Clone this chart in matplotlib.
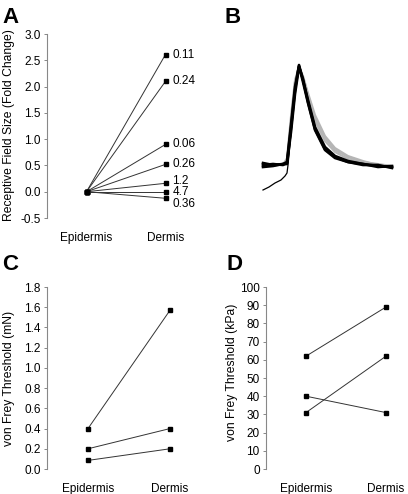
import matplotlib.pyplot as plt

plt.rcParams['font.family'] = ['Liberation Sans', 'DejaVu Sans']

groups = ["Epidermis", "Dermis"]

# A: receptive field size (fold change), labels next to dermis points
a_epi = [0, 0, 0, 0, 0, 0, 0]
a_derm = [2.61, 2.1, 0.9, 0.52, 0.16, 0.0, -0.125]
a_labels = ["0.11", "0.24", "0.06", "0.26", "1.2", "4.7", "0.36"]
a_label_dy = [0, 0, 0, 0, 2, 0, -4]   # small shifts (points) so labels don't overlap

# B: overlaid spike traces (time in samples, voltage in arbitrary units)
t_b = [0, 10, 20, 24, 28, 32, 36, 40, 45, 52, 62, 72, 85, 100, 115, 129]
black_traces = [
    [35, 36, 35, 37, 72, 110, 135, 120, 100, 73, 53, 44, 39, 36, 34, 33],
    [37, 35, 36, 36, 68, 106, 133, 121, 98, 71, 51, 43, 38, 35, 35, 32],
    [33, 34, 36, 38, 75, 113, 134, 118, 97, 70, 50, 42, 38, 36, 33, 34],
]
grey_traces = [
    [36, 35, 36, 40, 80, 118, 134, 123, 105, 82, 62, 50, 43, 38, 36, 34],
    [34, 36, 35, 42, 84, 120, 133, 124, 107, 85, 64, 52, 44, 39, 35, 33],
    [35, 34, 36, 39, 78, 115, 132, 122, 103, 79, 59, 48, 41, 37, 35, 34],
]
t_low = [0, 6, 12, 18, 22, 24, 25, 28, 32, 36, 40, 45, 52, 62, 72, 85]
v_low = [10, 13, 17, 20, 24, 27, 35, 68, 108, 132, 119, 98, 72, 52, 43, 38]

# C: von Frey threshold (mN)
c_epi = [0.40, 0.20, 0.085]
c_derm = [1.57, 0.40, 0.20]

# D: von Frey threshold (kPa)
d_epi = [62, 31, 40]
d_derm = [89, 62, 31]

W, H = 408, 494
fig = plt.figure(figsize=(W / 100, H / 100), dpi=100)


def box(left, top, right, bottom):
    return [left / W, 1 - bottom / H, (right - left) / W, (bottom - top) / H]


def pair_axes(ax, epi, derm, ylim, yticks, fmt, ylabel, label_y, label_x, lsize):
    for e, d in zip(epi, derm):
        ax.plot([1, 2], [e, d], color='#333333', lw=0.7,
                marker='s', ms=3.5, mfc='black', mec='black', zorder=3)
    ax.set_xlim(0.5, 2.5)
    ax.set_ylim(*ylim)
    ax.set_yticks(yticks)
    ax.set_yticklabels([fmt.format(v) for v in yticks])
    ax.set_xticks([1, 2])
    ax.set_xticklabels(groups)
    for s in ['top', 'right', 'bottom']:
        ax.spines[s].set_visible(False)
    ax.spines['left'].set_color('#888888')
    ax.spines['left'].set_linewidth(0.8)
    ax.tick_params(axis='y', length=2.5, width=0.7, color='#888888', pad=2, labelsize=8.5)
    ax.tick_params(axis='x', length=0, pad=10, labelsize=8.5)
    ax.set_ylabel(ylabel, fontsize=lsize)
    ax.yaxis.set_label_coords(label_x, label_y)
    ax.patch.set_alpha(0)


# panel A
axA = fig.add_axes(box(47, 34, 205, 218))
pair_axes(axA, a_epi, a_derm, (-0.5, 3.0), [-0.5, 0, 0.5, 1.0, 1.5, 2.0, 2.5, 3.0],
          "{:.1f}", "Receptive Field Size (Fold Change)", 0.505, -0.205, 8.7)
for v, lab, dy in zip(a_derm, a_labels, a_label_dy):
    axA.annotate(lab, (2, v), xytext=(5, dy), textcoords='offset points',
                 va='center', ha='left', fontsize=8.5)

# panel B
axB = fig.add_axes(box(255, 50, 400, 200))
for v in grey_traces:
    axB.plot(t_b, v, color='#b5b5b5', lw=1.5)
for v in black_traces:
    axB.plot(t_b, v, color='black', lw=1.9)
axB.plot(t_low, v_low, color='black', lw=0.9)
axB.set_xlim(-8, 137)
axB.set_ylim(0, 150)
axB.axis('off')

# panel C
axC = fig.add_axes(box(47, 287, 211, 469))
pair_axes(axC, c_epi, c_derm, (0, 1.8), [0, 0.2, 0.4, 0.6, 0.8, 1.0, 1.2, 1.4, 1.6, 1.8],
          "{:.1f}", "von Frey Threshold (mN)", 0.5, -0.195, 8.7)

# panel D
axD = fig.add_axes(box(266, 287, 426, 469))
pair_axes(axD, d_epi, d_derm, (0, 100), list(range(0, 101, 10)),
          "{:d}", "von Frey Threshold (kPa)", 0.53, -0.175, 8.7)

for lab, x, y in [("A", 2, 23), ("B", 224, 23), ("C", 2, 270), ("D", 226, 270)]:
    fig.text(x / W, 1 - y / H, lab, fontsize=16, fontweight='bold', va='baseline')

fig.savefig("out.png", dpi=100)
